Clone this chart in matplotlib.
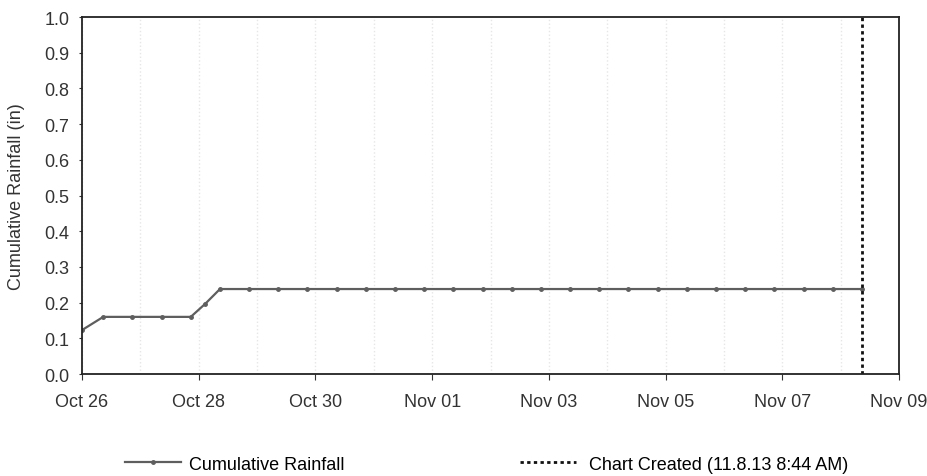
## cumulative rainfall chart
from datetime import datetime, timedelta
import matplotlib
matplotlib.use("Agg")
from matplotlib import pyplot as plt
import matplotlib.dates as mdates

plt.rcParams['font.family'] = ['Liberation Sans', 'DejaVu Sans']

## data (days after Oct 26 2013, inches)
start = datetime(2013, 10, 26)
offset_days = [0, 0.364, 0.864, 1.364, 1.864, 2.114, 2.364, 2.864, 3.364, 3.864,
               4.364, 4.864, 5.364, 5.864, 6.364, 6.864, 7.364, 7.864, 8.364,
               8.864, 9.364, 9.864, 10.364, 10.864, 11.364, 11.864, 12.364,
               12.864, 13.364]
rainfall = [0.123, 0.16, 0.16, 0.16, 0.16, 0.197, 0.238, 0.238, 0.238, 0.238,
            0.238, 0.238, 0.238, 0.238, 0.238, 0.238, 0.238, 0.238, 0.238,
            0.238, 0.238, 0.238, 0.238, 0.238, 0.238, 0.238, 0.238,
            0.238, 0.238]
created = datetime(2013, 11, 8, 8, 44)

times = [start + timedelta(days=d) for d in offset_days]

fig = plt.figure(figsize=(9.27, 4.77), dpi=100)
ax = fig.add_axes([82 / 927, 1 - 375 / 477, 817 / 927, 357 / 477])

line, = ax.plot(times, rainfall, color="#5e5e5e", linewidth=1.6, marker="o",
                markersize=2.5, label="Cumulative Rainfall")
vline = ax.axvline(created, color="#111111", linestyle=(0, (1.2, 1.2)), linewidth=2,
                   label="Chart Created (11.8.13 8:44 AM)")

ax.set_xlim(start, datetime(2013, 11, 9))
ax.set_ylim(0, 1.0)
ax.set_yticks([i / 10 for i in range(11)])
ax.yaxis.set_major_formatter(plt.FormatStrFormatter("%.1f"))
ax.xaxis.set_major_locator(mdates.DayLocator(interval=2))
ax.xaxis.set_minor_locator(mdates.DayLocator())
ax.xaxis.set_major_formatter(mdates.DateFormatter("%b %d"))
ax.grid(True, which="both", axis="x", color="#e6e6e6", linestyle=":", linewidth=1)
ax.tick_params(axis="both", labelsize=13, colors="#333333")
ax.tick_params(axis="x", which="major", length=4, pad=10)
ax.tick_params(axis="y", length=2, pad=7)
ax.tick_params(axis="x", which="minor", length=0)
for s in ax.spines.values():
    s.set_linewidth(1.3)
    s.set_color("#222222")

ax.set_ylabel("Cumulative Rainfall (in)", fontsize=13, color="#333333")
ax.yaxis.set_label_coords(-(82 - 25) / 817, 0.5)

## two legend entries spread under the chart
leg1 = fig.legend(handles=[line], loc="center left", bbox_to_anchor=(125 / 927, 0.025),
                  frameon=False, fontsize=13, handlelength=3.1, handletextpad=0.45,
                  borderpad=0, borderaxespad=0)
fig.legend(handles=[vline], loc="center left", bbox_to_anchor=(520 / 927, 0.025),
           frameon=False, fontsize=13, handlelength=3.1, handletextpad=0.7,
           borderpad=0, borderaxespad=0)

plt.savefig("out.png", dpi=100)
